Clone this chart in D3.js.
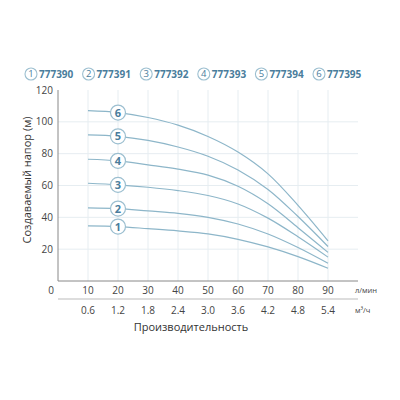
<!DOCTYPE html>
<html><head><meta charset="utf-8">
<script src="https://cdn.jsdelivr.net/npm/d3@7"></script>
<style>body{margin:0;background:#fff}svg{display:block}</style>
</head><body>
<svg id="c" width="400" height="400"></svg>
<script>
const models = ["777390","777391","777392","777393","777394","777395"];
const flowLmin = [10,20,30,40,50,60,70,80,90];
const flowM3h = ["0.6","1.2","1.8","2.4","3.0","3.6","4.2","4.8","5.4"];
const yTicks = [20,40,60,80,100,120];
const head1 = [34.6,34.2,32.9,31.5,29.6,26.2,21.4,15.3,8.0];
const head2 = [46.0,45.5,44.0,42.5,40.0,35.8,29.5,21.0,11.1];
const head3 = [61.4,60.4,58.9,56.8,53.7,48.4,39.5,27.8,15.0];
const head4 = [76.5,75.5,73.0,70.3,66.5,59.5,48.5,33.5,18.0];
const head5 = [91.8,90.9,88.3,84.2,78.4,69.8,57.5,40.5,21.7];
const head6 = [107.0,105.8,102.7,97.9,90.8,81.0,67.3,47.5,25.2];
const series = [head1,head2,head3,head4,head5,head6];

const svg = d3.select("#c");
const x = d3.scaleLinear().domain([0,100]).range([58,358]);
const y = d3.scaleLinear().domain([0,120]).range([281,90]);
const blue = "#4a7d9c";
const lineC = "#8db6c9";
const font = "'Open Sans', 'DejaVu Sans', sans-serif";

// grid
svg.append("g").selectAll("line").data(flowLmin).join("line")
  .attr("x1",d=>x(d)).attr("x2",d=>x(d)).attr("y1",y(120)).attr("y2",y(0))
  .attr("stroke","#e6edf1").attr("stroke-width",1);
svg.append("g").selectAll("line").data(yTicks.filter(d=>d<120)).join("line")
  .attr("x1",x(0)).attr("x2",x(100)).attr("y1",d=>y(d)).attr("y2",d=>y(d))
  .attr("stroke","#e6edf1").attr("stroke-width",1);

// axes lines
svg.append("line").attr("x1",x(0)).attr("x2",x(0)).attr("y1",y(120)).attr("y2",y(0)).attr("stroke","#888");
svg.append("line").attr("x1",x(0)).attr("x2",x(100)).attr("y1",y(0)).attr("y2",y(0)).attr("stroke","#888");
svg.append("line").attr("x1",x(0)).attr("x2",x(100)).attr("y1",299).attr("y2",299).attr("stroke","#bbb");

// y tick labels
svg.append("g").selectAll("text").data(yTicks).join("text")
  .attr("x",53).attr("y",d=>y(d)).attr("dy","0.35em").attr("text-anchor","end")
  .attr("font-family",font).attr("font-size",10).attr("fill","#444").text(d=>d);
svg.append("text").attr("x",51).attr("y",290).attr("dy","0.35em").attr("text-anchor","middle")
  .attr("font-family",font).attr("font-size",10).attr("fill","#444").text("0");

// x tick labels
svg.append("g").selectAll("text").data(flowLmin).join("text")
  .attr("x",d=>x(d)).attr("y",290).attr("dy","0.35em").attr("text-anchor","middle")
  .attr("font-family",font).attr("font-size",10).attr("fill","#444").text(d=>d);
svg.append("g").selectAll("text").data(flowM3h).join("text")
  .attr("x",(d,i)=>x(flowLmin[i])).attr("y",310).attr("dy","0.35em").attr("text-anchor","middle")
  .attr("font-family",font).attr("font-size",10).attr("fill","#444").text(d=>d);
svg.append("text").attr("x",355).attr("y",290).attr("dy","0.35em")
  .attr("font-family",font).attr("font-size",7.5).attr("fill","#444").text("л/мин");
svg.append("text").attr("x",355).attr("y",310).attr("dy","0.35em")
  .attr("font-family",font).attr("font-size",7.5).attr("fill","#444").text("м³/ч");

svg.append("text").attr("x",191).attr("y",327).attr("dy","0.35em").attr("text-anchor","middle")
  .attr("font-family",font).attr("font-size",11).attr("fill","#333").text("Производительность");
svg.append("text").attr("transform","translate(27,180) rotate(-90)").attr("dy","0.35em")
  .attr("text-anchor","middle").attr("font-family",font).attr("font-size",11).attr("fill","#333")
  .text("Создаваемый напор (м)");

// curves
const line = d3.line().x((d,i)=>x(flowLmin[i])).y(d=>y(d)).curve(d3.curveCatmullRom.alpha(0.5));
svg.append("g").selectAll("path").data(series).join("path")
  .attr("d",line).attr("fill","none").attr("stroke",lineC).attr("stroke-width",1.2);

// curve labels at flow 20
const lab = svg.append("g").selectAll("g").data(series).join("g")
  .attr("transform",d=>`translate(${x(flowLmin[1])},${y(d[1])})`);
lab.append("circle").attr("r",7.5).attr("fill","#fff").attr("stroke","#9cbfd0").attr("stroke-width",1.2);
lab.append("text").attr("dy","0.36em").attr("text-anchor","middle").attr("font-family",font)
  .attr("font-weight","bold").attr("font-size",11).attr("fill",blue).text((d,i)=>i+1);

// legend
const leg = svg.append("g").selectAll("g").data(models).join("g")
  .attr("transform",(d,i)=>`translate(${31+i*57.6},74)`);
leg.append("circle").attr("r",6).attr("fill","#fff").attr("stroke","#9cbfd0").attr("stroke-width",1.1);
leg.append("text").attr("dy","0.36em").attr("text-anchor","middle").attr("font-family",font)
  .attr("font-size",9.5).attr("fill",blue).text((d,i)=>i+1);
leg.append("text").attr("x",8).attr("dy","0.36em").attr("font-family",font)
  .attr("font-weight","bold").attr("font-size",10).attr("fill",blue).text(d=>d);
</script>
</body></html>
